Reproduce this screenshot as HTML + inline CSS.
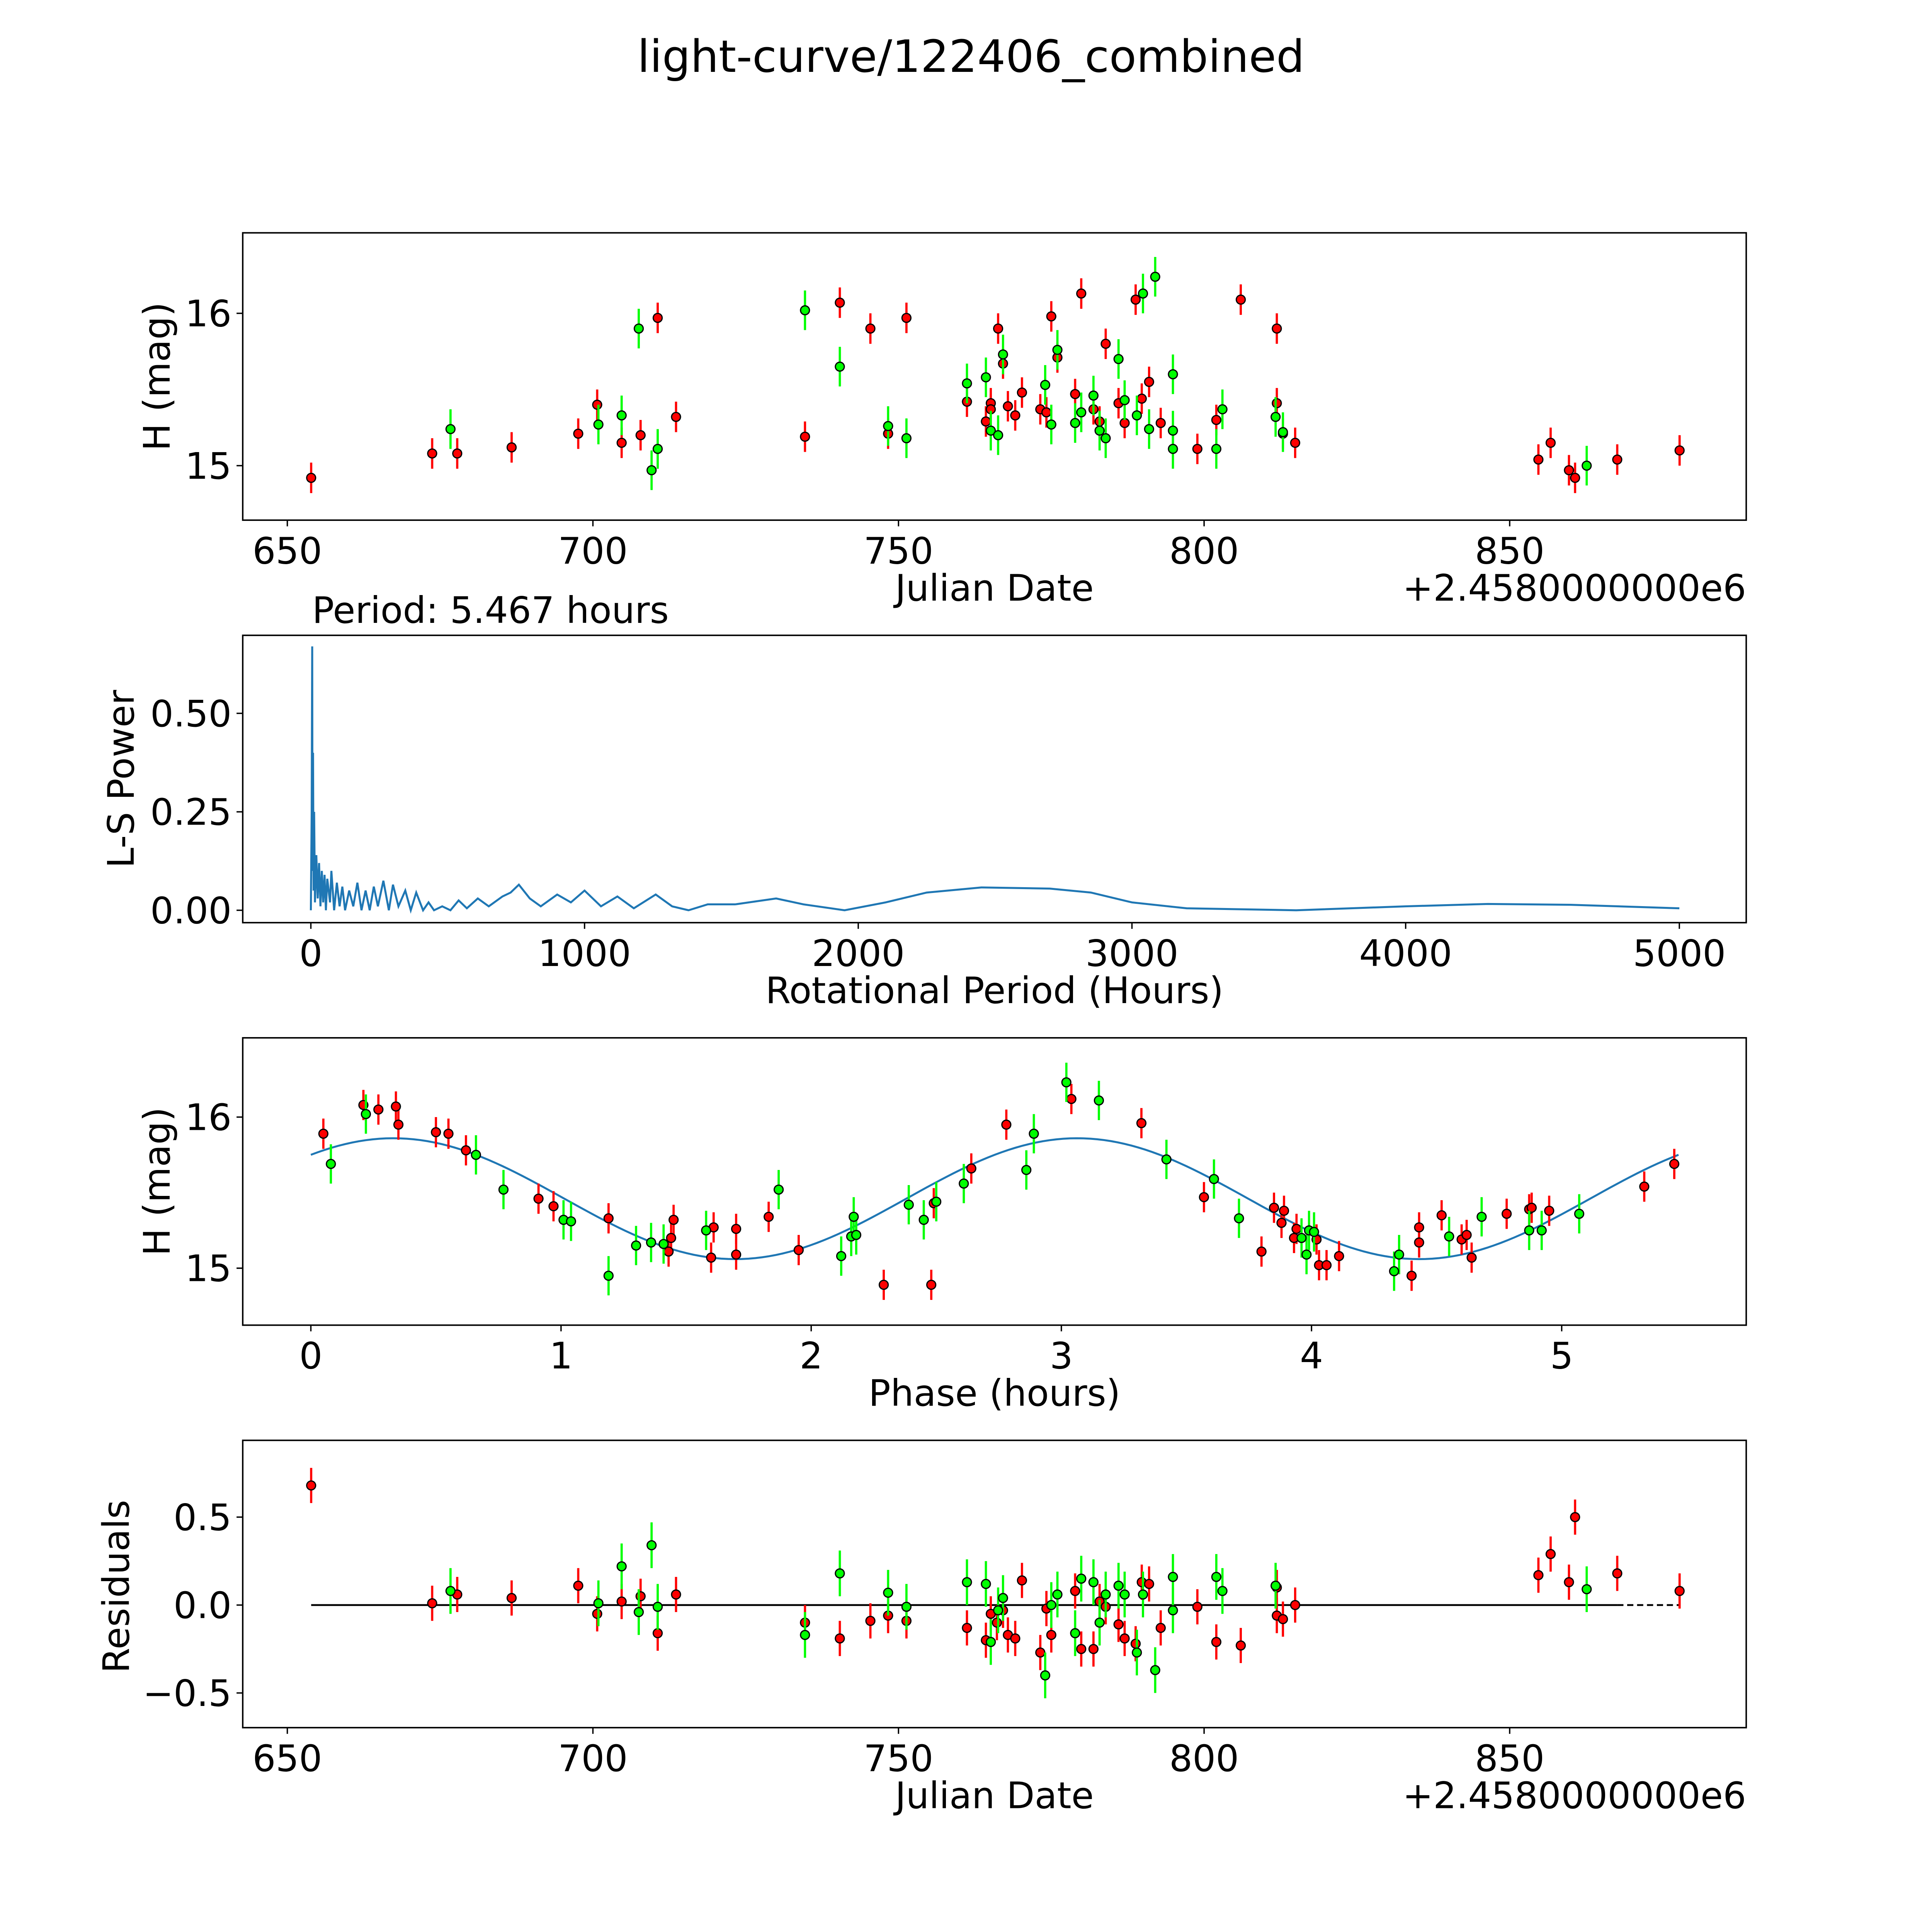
<!DOCTYPE html>
<html><head><meta charset="utf-8"><style>
html,body{margin:0;padding:0;background:#fff;width:100%;height:100%;overflow:hidden}
svg{display:block;width:100vw;height:100vh}
text{font-family:"DejaVu Sans","Liberation Sans",sans-serif;fill:#000}
</style></head><body>
<svg id="fig" viewBox="0 0 1560 1560" preserveAspectRatio="none" xmlns="http://www.w3.org/2000/svg">
<rect width="1560" height="1560" fill="#fff"/>
</svg>
<script>
// ---- data: light curve ----
const redDates=[653.9,673.7,677.8,686.7,697.6,700.7,704.7,707.8,710.6,713.6,734.7,740.4,745.4,751.3,748.3,761.2,764.3,765.1,765.1,766.3,767.1,767.9,769.1,770.2,773.2,774.2,775.0,776.0,778.9,779.9,781.9,782.9,783.9,786.0,787.0,788.8,789.8,791.0,792.9,798.9,802.0,806.0,811.9,811.9,812.9,814.9,854.7,856.7,859.7,860.7,867.6,877.8];
const redMags=[14.92,15.08,15.08,15.12,15.21,15.40,15.15,15.20,15.97,15.32,15.19,16.07,15.90,15.97,15.21,15.42,15.29,15.41,15.37,15.90,15.67,15.39,15.33,15.48,15.37,15.35,15.98,15.71,15.47,16.13,15.37,15.29,15.80,15.41,15.28,16.09,15.44,15.55,15.28,15.11,15.30,16.09,15.90,15.41,15.21,15.15,15.04,15.15,14.97,14.92,15.04,15.10];
const greenDates=[676.7,700.9,704.7,707.5,709.6,710.6,734.7,740.4,748.3,751.3,761.2,764.3,765.1,766.3,767.1,774.0,775.0,776.0,778.9,779.9,781.9,782.9,783.9,786.0,787.0,789.0,790.0,791.0,792.0,794.9,794.9,794.9,802.0,803.0,811.7,812.9,862.6];
const greenMags=[15.24,15.27,15.33,15.90,14.97,15.11,16.02,15.65,15.26,15.18,15.54,15.58,15.23,15.20,15.73,15.53,15.27,15.76,15.28,15.35,15.46,15.23,15.18,15.70,15.43,15.33,16.13,15.24,16.24,15.60,15.23,15.11,15.11,15.37,15.32,15.22,15.00];
// ---- data: periodogram ----
const lsPeriods=[0,3,5,6,8,10,12,15,20,25,30,35,40,45,50,55,60,70,75,85,95,105,115,125,140,155,170,185,200,215,230,245,265,285,300,320,345,365,385,410,430,450,480,510,540,570,610,650,700,730,760,800,840,900,950,1000,1060,1120,1180,1260,1320,1380,1450,1550,1700,1800,1950,2100,2250,2450,2700,2850,3000,3200,3600,4000,4300,4600,5000];
const lsPower=[0,0.25,0.67,0.1,0.4,0.05,0.25,0.02,0.14,0.03,0.12,0.01,0.1,0.02,0.09,0.0,0.08,0.02,0.1,0.0,0.07,0.01,0.06,0.0,0.05,0.01,0.07,0.0,0.05,0.0,0.06,0.01,0.075,0.0,0.065,0.01,0.05,0.0,0.045,0.0,0.02,0.0,0.01,0.0,0.025,0.005,0.03,0.01,0.035,0.045,0.065,0.03,0.01,0.04,0.02,0.05,0.01,0.035,0.005,0.04,0.01,0.0,0.015,0.015,0.03,0.015,0.0,0.02,0.045,0.058,0.055,0.045,0.02,0.005,0.0,0.01,0.016,0.014,0.005];
// ---- data: phased ----
const redPhase=[0.05,0.21,0.27,0.34,0.35,0.50,0.55,0.62,0.91,0.97,1.19,1.43,1.44,1.45,1.60,1.61,1.70,1.70,1.83,1.95,2.29,2.48,2.49,2.64,2.78,3.04,3.32,3.57,3.80,3.85,3.88,3.89,3.93,3.94,4.02,4.03,4.06,4.11,4.40,4.43,4.43,4.52,4.60,4.62,4.64,4.78,4.87,4.88,4.95,5.33,5.45];
const redPhaseMags=[15.89,16.08,16.05,16.07,15.95,15.90,15.89,15.78,15.46,15.41,15.33,15.11,15.20,15.32,15.07,15.27,15.09,15.26,15.34,15.12,14.89,14.89,15.43,15.66,15.95,16.12,15.96,15.47,15.11,15.40,15.30,15.38,15.20,15.26,15.19,15.02,15.02,15.08,14.95,15.27,15.17,15.35,15.19,15.22,15.07,15.36,15.39,15.40,15.38,15.54,15.69];
const greenPhase=[0.08,0.22,0.66,0.77,1.01,1.04,1.19,1.30,1.36,1.41,1.58,1.87,2.12,2.16,2.17,2.18,2.39,2.45,2.50,2.61,2.86,2.89,3.02,3.15,3.42,3.61,3.71,3.96,3.98,3.99,4.01,4.33,4.35,4.55,4.68,4.87,4.92,5.07];
const greenPhaseMags=[15.69,16.02,15.75,15.52,15.32,15.31,14.95,15.15,15.17,15.16,15.25,15.52,15.08,15.21,15.34,15.22,15.42,15.32,15.44,15.56,15.65,15.89,16.23,16.11,15.72,15.59,15.33,15.20,15.09,15.25,15.24,14.98,15.09,15.21,15.34,15.25,15.25,15.36];
const modelParams=[15.46,0.40,0.33,2.7335]; // mean, amplitude, phase of max, half-period
const PERIOD=5.467;
// ---- data: residuals ----
const resRedDates=[653.9,673.7,677.8,686.7,697.6,700.7,704.7,707.8,710.6,713.6,734.7,740.4,745.4,748.3,751.3,761.2,764.3,765.1,766.1,767.1,767.9,769.1,770.2,773.2,774.2,775.0,778.9,779.9,781.9,782.9,783.9,786.0,787.0,788.8,789.8,791.0,792.9,798.9,802.0,806.0,811.9,812.9,814.9,854.7,856.7,859.7,860.7,867.6,877.8,811.9];
const resRedVals=[0.68,0.01,0.06,0.04,0.11,-0.05,0.02,0.05,-0.16,0.06,-0.10,-0.19,-0.09,-0.06,-0.09,-0.13,-0.20,-0.05,-0.10,-0.03,-0.17,-0.19,0.14,-0.27,-0.02,-0.17,0.08,-0.25,-0.25,0.02,-0.01,-0.11,-0.19,-0.22,0.13,0.12,-0.13,-0.01,-0.21,-0.23,-0.06,-0.08,0.00,0.17,0.29,0.13,0.50,0.18,0.08,0.10];
const resGreenDates=[676.7,700.9,704.7,707.5,709.6,710.6,734.7,740.4,748.3,751.3,761.2,764.3,765.1,766.3,767.1,774.0,775.0,776.0,778.9,779.9,781.9,782.9,783.9,786.0,787.0,789.0,790.0,792.0,794.9,794.9,802.0,803.0,811.7,862.6];
const resGreenVals=[0.08,0.01,0.22,-0.04,0.34,-0.01,-0.17,0.18,0.07,-0.01,0.13,0.12,-0.21,-0.03,0.04,-0.40,0.0,0.06,-0.16,0.15,0.13,-0.10,0.06,0.11,0.06,-0.27,0.06,-0.37,0.16,-0.03,0.16,0.08,0.11,0.09];
const RED_ERR=0.1, GREEN_ERR=0.13;

const NS="http://www.w3.org/2000/svg";
const svg=document.getElementById('fig');
function mk(tag,attrs,parent){const e=document.createElementNS(NS,tag);for(const k in attrs)e.setAttribute(k,attrs[k]);(parent||svg).appendChild(e);return e;}
function txt(s,x,y,size,anchor,parent){const t=mk('text',{x:x,y:y,'font-size':size,'text-anchor':anchor||'middle'},parent);t.textContent=s;return t;}

const L=196,R=1410,FS=29.5;
function axesBox(top,bot,name){
  const g=mk('g',{});
  
  
  mk('rect',{x:L,y:top,width:R-L,height:bot-top,fill:'none',stroke:'#000','stroke-width':1.2},g);
  return g;
}
function xTicks(g,bot,vals,labels,sx){
  vals.forEach((v,i)=>{const x=sx(v);mk('line',{x1:x,x2:x,y1:bot,y2:bot+5,stroke:'#000','stroke-width':1.1},g);
    const t=txt(labels[i],x,bot+35,FS,'middle',g);
    
    });
}
function yTicks(g,vals,labels,sy){
  vals.forEach((v,i)=>{const y=sy(v);mk('line',{x1:L-5,x2:L,y1:y,y2:y,stroke:'#000','stroke-width':1.1},g);
    const t=txt(labels[i],L-9,y+10.5,FS,'end',g);
    
    });
}
function ylabel(g,s,x,cy){const t=mk('text',{x:0,y:0,'font-size':FS,'text-anchor':'middle',transform:`translate(${x},${cy}) rotate(-90)`},g);t.textContent=s;
  
  }
function xlabel(g,s,y){const t=txt(s,803,y,FS,'middle',g);
  
  }
function points(g,xs,ys,sx,sy,err,color,name){
  xs.forEach((xv,i)=>{const x=sx(xv);
    mk('line',{x1:x,x2:x,y1:sy(ys[i]-err),y2:sy(ys[i]+err),stroke:color,'stroke-width':1.8},g);});
  xs.forEach((xv,i)=>{const c=mk('circle',{cx:sx(xv),cy:sy(ys[i]),r:3.6,fill:color,stroke:'#000','stroke-width':1},g);
    
    });
}

const ti=txt('light-curve/122406_combined',784,58,36,'middle');



const sxDate=d=>232+(d-650)*4.935;
{const g=axesBox(188,420,'light-curve-panel');
 const sy=m=>376-(m-15)*123;
 xTicks(g,420,[650,700,750,800,850],['650','700','750','800','850'],sxDate);
 yTicks(g,[15,16],['15','16'],sy);
 ylabel(g,'H (mag)',137,304); xlabel(g,'Julian Date',485);
 const o=txt('+2.4580000000e6',1410,485,FS,'end',g);
 
 
 points(g,redDates,redMags,sxDate,sy,RED_ERR,'#ff0000','red-point');
 points(g,greenDates,greenMags,sxDate,sy,GREEN_ERR,'#00ff00','green-point');
}
{const g=axesBox(513,745,'periodogram-panel');
 const sx=h=>251+h*0.221, sy=p=>735-p*318;
 const pt=txt('Period: 5.467 hours',252,503,FS,'start',g);
 
 
 xTicks(g,745,[0,1000,2000,3000,4000,5000],['0','1000','2000','3000','4000','5000'],sx);
 yTicks(g,[0,0.25,0.5],['0.00','0.25','0.50'],sy);
 ylabel(g,'L-S Power',108,629); xlabel(g,'Rotational Period (Hours)',810);
 const d=lsPeriods.map((h,i)=>(i?'L':'M')+sx(h).toFixed(2)+' '+sy(lsPower[i]).toFixed(2)).join(' ');
 const p=mk('path',{d:d,fill:'none',stroke:'#1f77b4','stroke-width':1.6},g);
 
 
}
{const g=axesBox(838,1070,'phase-panel');
 const sx=p=>251+p*202, sy=m=>1024-(m-15)*122;
 xTicks(g,1070,[0,1,2,3,4,5],['0','1','2','3','4','5'],sx);
 yTicks(g,[15,16],['15','16'],sy);
 ylabel(g,'H (mag)',137,954); xlabel(g,'Phase (hours)',1135);
 let d='';
 for(let i=0;i<=200;i++){const ph=PERIOD*i/200;
   const m=modelParams[0]+modelParams[1]*Math.cos(2*Math.PI*(ph-modelParams[2])/modelParams[3]);
   d+=(i?'L':'M')+sx(ph).toFixed(2)+' '+sy(m).toFixed(2)+' ';}
 const p=mk('path',{d:d,fill:'none',stroke:'#1f77b4','stroke-width':1.6},g);
 
 
 points(g,redPhase,redPhaseMags,sx,sy,RED_ERR,'#ff0000','red-point');
 points(g,greenPhase,greenPhaseMags,sx,sy,GREEN_ERR,'#00ff00','green-point');
}
{const g=axesBox(1163,1395,'residuals-panel');
 const sy=r=>1296-r*142;
 xTicks(g,1395,[650,700,750,800,850],['650','700','750','800','850'],sxDate);
 yTicks(g,[-0.5,0,0.5],['\u22120.5','0.0','0.5'],sy);
 ylabel(g,'Residuals',104,1281); xlabel(g,'Julian Date',1460);
 const o=txt('+2.4580000000e6',1410,1460,FS,'end',g);
 
 
 const z1=mk('line',{x1:sxDate(653.9),x2:sxDate(867.6),y1:sy(0),y2:sy(0),stroke:'#000','stroke-width':1.5},g);
 
 
 const z2=mk('line',{x1:sxDate(867.6),x2:sxDate(877.8),y1:sy(0),y2:sy(0),stroke:'#000','stroke-width':1.5,'stroke-dasharray':'5,3'},g);
 
 
 points(g,resRedDates,resRedVals,sxDate,sy,RED_ERR,'#ff0000','red-residual');
 points(g,resGreenDates,resGreenVals,sxDate,sy,GREEN_ERR,'#00ff00','green-residual');
}
</script>
</body></html>
